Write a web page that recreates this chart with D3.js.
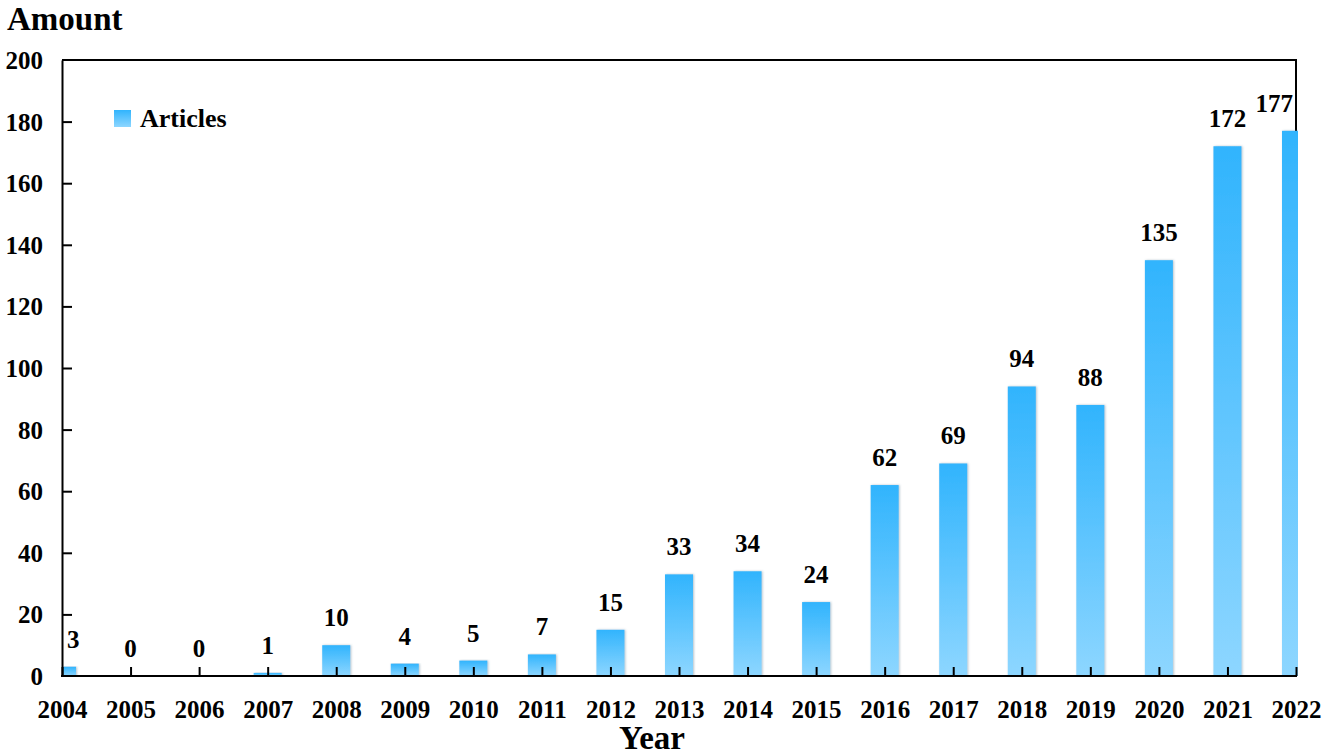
<!DOCTYPE html>
<html><head><meta charset="utf-8">
<script src="https://cdn.jsdelivr.net/npm/d3@7/dist/d3.min.js"></script>
<style>
html,body{margin:0;padding:0;background:#fff;}
text{font-family:"Liberation Serif","Times New Roman",serif;font-weight:bold;fill:#000;}
</style></head>
<body>
<svg id="chart" width="1327" height="756"></svg>
<script>
const years = ["2004","2005","2006","2007","2008","2009","2010","2011","2012","2013","2014","2015","2016","2017","2018","2019","2020","2021","2022"];
const articles = [3,0,0,1,10,4,5,7,15,33,34,24,62,69,94,88,135,172,177];
const yTicks = [0,20,40,60,80,100,120,140,160,180,200];
const seriesName = "Articles";

const svg = d3.select("#chart");
const L = 62, R = 1296, T = 60, B = 676;
const x = d3.scalePoint().domain(years).range([L, R]);
const y = d3.scaleLinear().domain([0, 200]).range([B, T]);
const barW = 28;

const defs = svg.append("defs");
const grad = defs.append("linearGradient").attr("id","barGrad")
  .attr("x1","0").attr("y1","0").attr("x2","0").attr("y2","1");
grad.append("stop").attr("offset","0%").attr("stop-color","#31b4fd");
grad.append("stop").attr("offset","100%").attr("stop-color","#8dd6ff");
const f = defs.append("filter").attr("id","shadow").attr("x","-20%").attr("y","-5%").attr("width","140%").attr("height","110%");
f.append("feDropShadow").attr("dx",1).attr("dy",0).attr("stdDeviation",1.2).attr("flood-color","#5a7a90").attr("flood-opacity",0.45);
defs.append("clipPath").attr("id","plotClip").append("rect")
  .attr("x", L).attr("y", 0).attr("width", R - L + 2).attr("height", B);

// frame (top + right)
svg.append("path").attr("d", `M${L},${T}H${R}V${B}`).attr("fill","none").attr("stroke","#000").attr("stroke-width",2);

// bars
svg.append("g").attr("clip-path","url(#plotClip)")
  .selectAll("rect").data(articles).join("rect")
  .attr("x", (d,i) => x(years[i]) - barW/2)
  .attr("y", d => y(d))
  .attr("width", barW)
  .attr("height", d => B - y(d))
  .attr("fill","url(#barGrad)")
  .attr("filter","url(#shadow)");

// y axis
const yAxis = d3.axisLeft(y).tickValues(yTicks).tickSizeInner(-10).tickSizeOuter(0).tickPadding(20);
const gy = svg.append("g").attr("transform",`translate(${L},0)`).call(yAxis);
gy.select(".domain").attr("stroke","#000").attr("stroke-width",2);
gy.selectAll(".tick line").attr("stroke","#000").attr("stroke-width",2)
  .filter(d => d === 0 || d === 200).remove();
gy.selectAll(".tick text").attr("font-size",25).attr("font-family",null).attr("x",-19).attr("dy","0.34em");

// x axis
const xAxis = d3.axisBottom(x).tickSizeInner(-9).tickSizeOuter(0).tickPadding(26);
const gx = svg.append("g").attr("transform",`translate(0,${B})`).call(xAxis);
gx.select(".domain").attr("stroke","#000").attr("stroke-width",2).attr("d", `M${L-1},0H${R+1}`);
gx.selectAll(".tick line").attr("stroke","#000").attr("stroke-width",2);
gx.selectAll(".tick text").attr("font-size",25).attr("font-family",null).attr("y",42).attr("dy",0);

// value labels (kept inside the plot)
svg.append("g").selectAll("text").data(articles).join("text")
  .attr("font-size",25)
  .attr("text-anchor","middle")
  .attr("y", d => y(d) - 19)
  .text(d => d)
  .each(function(d,i){
    const w = this.getComputedTextLength();
    let cx = x(years[i]);
    cx = Math.max(cx, L + 5 + w/2);
    cx = Math.min(cx, R - 3 - w/2);
    d3.select(this).attr("x", cx);
  });

// titles
svg.append("text").attr("x",7).attr("y",30).attr("font-size",33).text("Amount");
svg.append("text").attr("x",652).attr("y",749).attr("text-anchor","middle").attr("font-size",33).text("Year");

// legend
const lg = svg.append("g");
lg.append("rect").attr("x",114).attr("y",110).attr("width",17).attr("height",17).attr("fill","url(#barGrad)");
lg.append("text").attr("x",140).attr("y",127).attr("font-size",26).text(seriesName);
</script>
</body></html>
